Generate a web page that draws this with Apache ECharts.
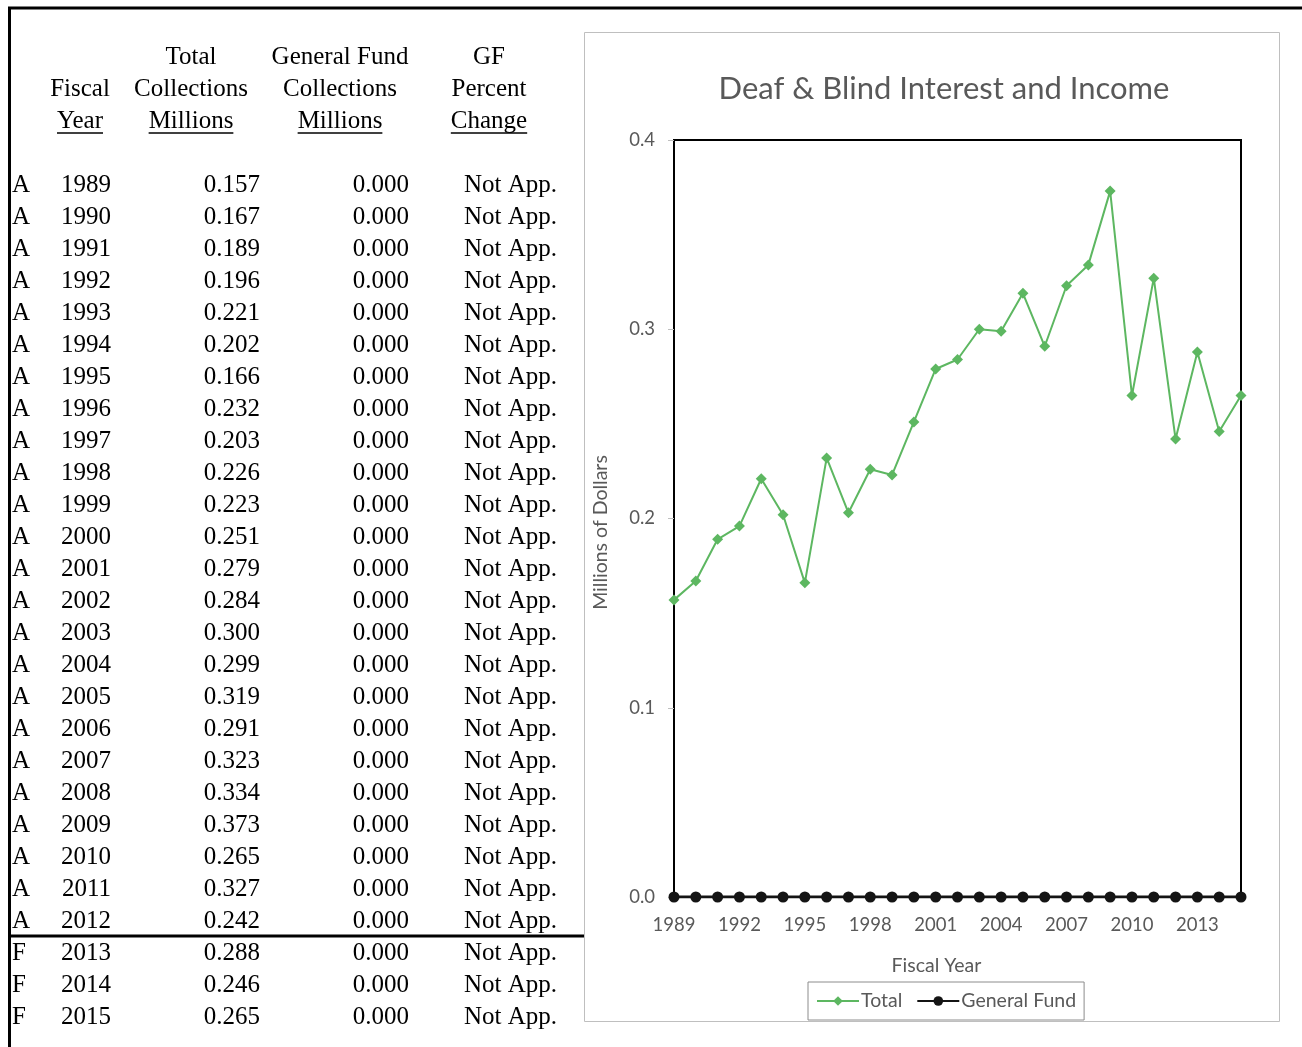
<!DOCTYPE html>
<html>
<head>
<meta charset="utf-8">
<title>Deaf &amp; Blind Interest and Income</title>
<script src="https://cdn.jsdelivr.net/npm/echarts@6/dist/echarts.min.js"></script>
<style>
  html, body { margin: 0; padding: 0; background: #fff; }
  #chart { width: 1302px; height: 1047px; }
</style>
</head>
<body>
<div id="chart"></div>
<script>
// Fiscal years and collections (millions of dollars)
const years = [1989, 1990, 1991, 1992, 1993, 1994, 1995, 1996, 1997, 1998, 1999, 2000,
  2001, 2002, 2003, 2004, 2005, 2006, 2007, 2008, 2009, 2010, 2011, 2012, 2013, 2014, 2015];
const statusCodes = ['A', 'A', 'A', 'A', 'A', 'A', 'A', 'A', 'A', 'A', 'A', 'A',
  'A', 'A', 'A', 'A', 'A', 'A', 'A', 'A', 'A', 'A', 'A', 'A', 'F', 'F', 'F'];
const totalCollections = [0.157, 0.167, 0.189, 0.196, 0.221, 0.202, 0.166, 0.232, 0.203,
  0.226, 0.223, 0.251, 0.279, 0.284, 0.300, 0.299, 0.319, 0.291, 0.323, 0.334, 0.373,
  0.265, 0.327, 0.242, 0.288, 0.246, 0.265];
const generalFundCollections = [0, 0, 0, 0, 0, 0, 0, 0, 0, 0, 0, 0, 0, 0, 0, 0, 0, 0, 0,
  0, 0, 0, 0, 0, 0, 0, 0];
const gfPercentChange = years.map(() => 'Not App.');
const yTicks = [0, 0.1, 0.2, 0.3, 0.4];

const headerColumns = [
  { lines: ['', 'Fiscal', 'Year'], cx: 80 },
  { lines: ['Total', 'Collections', 'Millions'], cx: 191 },
  { lines: ['General Fund', 'Collections', 'Millions'], cx: 340 },
  { lines: ['GF', 'Percent', 'Change'], cx: 489 }
];

const serif = '"Liberation Serif", "Times New Roman", serif';
const sans = 'Lato, "Open Sans", sans-serif';
const tableFont = '25px ' + serif;
const ink = '#000';

// Text measuring for header underlines
const measureCtx = document.createElement('canvas').getContext('2d');
measureCtx.font = tableFont;
const textWidth = s => measureCtx.measureText(s).width;

const graphics = [];

// Page frame
graphics.push({ type: 'line', shape: { x1: 8, y1: 8, x2: 1302, y2: 8 }, style: { stroke: ink, lineWidth: 3 } });
graphics.push({ type: 'line', shape: { x1: 9.5, y1: 7, x2: 9.5, y2: 1047 }, style: { stroke: ink, lineWidth: 3 } });

// Chart area frame
graphics.push({ type: 'rect', shape: { x: 584.5, y: 32.5, width: 695, height: 989 },
  style: { fill: null, stroke: '#bfbfbf', lineWidth: 1 }, z: -1 });

// Table header
headerColumns.forEach(col => {
  col.lines.forEach((line, j) => {
    if (!line) return;
    const y = 57 + 32 * j;
    graphics.push({ type: 'text', x: col.cx, y: y,
      style: { text: line, font: tableFont, fill: ink, align: 'center', verticalAlign: 'middle' } });
    if (j === col.lines.length - 1) {
      const w = textWidth(line);
      graphics.push({ type: 'line', shape: { x1: col.cx - w / 2, y1: y + 12, x2: col.cx + w / 2, y2: y + 12 },
        style: { stroke: ink, lineWidth: 1.5 } });
    }
  });
});

// Table body
years.forEach((yr, i) => {
  const y = 185 + 32 * i;
  const cells = [
    { text: statusCodes[i], x: 12, align: 'left' },
    { text: String(yr), x: 111, align: 'right' },
    { text: totalCollections[i].toFixed(3), x: 260, align: 'right' },
    { text: generalFundCollections[i].toFixed(3), x: 409, align: 'right' },
    { text: gfPercentChange[i], x: 557, align: 'right' }
  ];
  cells.forEach(c => {
    graphics.push({ type: 'text', x: c.x, y: y,
      style: { text: c.text, font: tableFont, fill: ink, align: c.align, verticalAlign: 'middle' } });
  });
});

// Rule between actual and forecast years
const lastActual = statusCodes.lastIndexOf('A');
const ruleY = 184 + 32 * lastActual + 16;
graphics.push({ type: 'line', shape: { x1: 10, y1: ruleY, x2: 584, y2: ruleY }, style: { stroke: ink, lineWidth: 3 } });

const chart = echarts.init(document.getElementById('chart'), null, { renderer: 'canvas' });

chart.setOption({
  animation: false,
  backgroundColor: '#fff',
  title: {
    text: 'Deaf & Blind Interest and Income',
    left: 939,
    top: 68,
    textAlign: 'center',
    textStyle: { fontFamily: sans, fontSize: 31, fontWeight: 'normal', color: '#595959' }
  },
  legend: {
    left: 808,
    top: 982,
    padding: [9, 8, 9, 8],
    itemGap: 14,
    itemWidth: 42,
    itemHeight: 12,
    borderColor: '#8c8c8c',
    borderWidth: 1,
    textStyle: { fontFamily: sans, fontSize: 19.5, color: '#595959', padding: [0, 0, 0, -3] },
    data: ['Total', 'General Fund']
  },
  grid: {
    left: 674, top: 140, right: 61, bottom: 150,
    show: true, borderColor: '#000', borderWidth: 2,
    containLabel: false
  },
  xAxis: {
    type: 'category',
    data: years.map(String),
    boundaryGap: false,
    name: 'Fiscal Year',
    nameLocation: 'middle',
    nameGap: 59,
    nameTextStyle: { fontFamily: sans, fontSize: 19.5, color: '#595959', padding: [0, 42, 0, 0] },
    axisLine: { show: false },
    axisTick: { show: false },
    axisLabel: { interval: 2, fontFamily: sans, fontSize: 18.5, color: '#595959', margin: 19 },
    splitLine: { show: false }
  },
  yAxis: {
    type: 'value',
    min: yTicks[0],
    max: yTicks[yTicks.length - 1],
    interval: 0.1,
    name: 'Millions of Dollars',
    nameLocation: 'middle',
    nameGap: 63,
    nameTextStyle: { fontFamily: sans, fontSize: 19.5, color: '#595959', padding: [0, 28, 0, 0] },
    axisLine: { show: true, lineStyle: { color: '#000', width: 2 } },
    axisTick: { show: true, length: 6, lineStyle: { color: '#bfbfbf', width: 1 } },
    axisLabel: { fontFamily: sans, fontSize: 18.5, color: '#595959', margin: 19,
      formatter: v => v.toFixed(1) },
    splitLine: { show: false }
  },
  series: [
    {
      name: 'Total',
      type: 'line',
      data: totalCollections,
      symbol: 'diamond',
      symbolSize: 11,
      itemStyle: { color: '#5db761' },
      lineStyle: { color: '#5db761', width: 2 },
      z: 3
    },
    {
      name: 'General Fund',
      type: 'line',
      data: generalFundCollections,
      symbol: 'circle',
      symbolSize: 11,
      itemStyle: { color: '#141414' },
      lineStyle: { color: '#141414', width: 3 },
      z: 4
    }
  ],
  graphic: graphics
});
</script>
</body>
</html>
